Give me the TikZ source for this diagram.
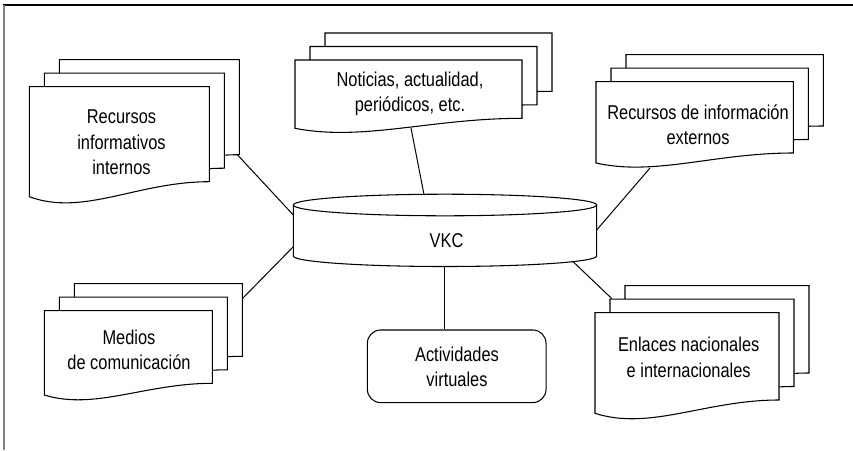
\documentclass[tikz,border=0pt]{standalone}
\usepackage{fontspec}
\setmainfont{Liberation Sans}[FakeStretch=0.82]
\tikzset{
  docline/.style={draw=black, line width=0.8pt, fill=white, line join=miter},
  conn/.style={draw=black, line width=0.75pt},
  doctext/.style={align=center, font=\fontsize{15}{19}\selectfont, inner sep=0pt, text=black},
  actbox/.style={draw=black, line width=0.8pt, fill=white, rounded corners=10pt,
    minimum width=134pt, minimum height=54.5pt, inner sep=0pt}
}
% one document sheet: L T R B a
\newcommand{\docsheet}[5]{%
  \filldraw[docline] ({#1},{#2}) -- ({#3},{#2}) -- ({#3},{#4})
    .. controls ({(#1)+0.6*((#3)-(#1))},{#4}) and ({(#1)+0.3*((#3)-(#1))},{(#4)+2.33*(#5)})
    .. ({#1},{(#4)+(#5)}) -- cycle;}
% stack of three sheets
\newcommand{\multidoc}[5]{%
  \docsheet{(#1)+30}{(#2)-27}{(#3)+30}{(#4)-27}{#5}
  \docsheet{(#1)+15}{(#2)-13.5}{(#3)+15}{(#4)-13.5}{#5}
  \docsheet{#1}{#2}{#3}{#4}{#5}}
\begin{document}
\begin{tikzpicture}[x=0.75pt,y=-0.75pt]
\useasboundingbox (0,0) rectangle (853,450);
% frame
\draw[black, line width=0.9pt] (3.3,5) -- (853,5);
\draw[black!50, line width=1.5pt] (4,4.5) -- (4,450);

% connector end points
\coordinate (e1a) at (236.7,154);   \coordinate (e1b) at (293.3,215);
\coordinate (e2a) at (411,128);     \coordinate (e2b) at (424,194.5);
\coordinate (e3a) at (650,168);     \coordinate (e3b) at (596.7,230);
\coordinate (e4a) at (242.7,298.3); \coordinate (e4b) at (293.3,246.7);
\coordinate (e5a) at (573,261.6);   \coordinate (e5b) at (611.7,298.5);
\coordinate (e6a) at (444.3,266);

% connectors (drawn first, shapes cover their ends)
\draw[conn] (e1a) -- (e1b);
\draw[conn] (e2a) -- (e2b);
\draw[conn] (e3a) -- (e3b);
\draw[conn] (e4a) -- (e4b);
\draw[conn] (e5a) -- (e5b);

% documents
\multidoc{29.3}{86.7}{209.3}{181.7}{15}
\node[doctext] (rii) at (121.5,142.5) {Recursos\\informativos\\internos};

\multidoc{295}{60}{522}{118.3}{10}
\node[doctext] (news) at (410,94) {Noticias, actualidad,\\periódicos, etc.};

\multidoc{596}{81.7}{793.3}{153}{10}
\node[doctext] (ext) at (698,125) {Recursos de información\\externos};

\multidoc{44.3}{310.7}{212.3}{383.3}{11.7}
\node[doctext] (med) at (129,349.7) {Medios\\de comunicación};

\multidoc{595}{312.7}{779}{400}{13.3}
\node[doctext] (enl) at (688.7,357.5) {Enlaces nacionales\\e internacionales};

% cylinder VKC
\filldraw[docline] (293.3,205) -- (293.3,256)
  arc[start angle=180, end angle=0, x radius=151.7, y radius=10.5] -- (596.7,205) -- cycle;
\filldraw[docline] (445,205) ellipse[x radius=151.7, y radius=10.8];
\node[doctext] (vkc) at (446.5,240.8) {VKC};

% activities
\node[actbox] (act) at (456.7,366.3) {};
\node[doctext] (acttext) at (457,367) {Actividades\\virtuales};
\draw[conn] (e6a) -- (e6a |- act.north);
\end{tikzpicture}
\end{document}
